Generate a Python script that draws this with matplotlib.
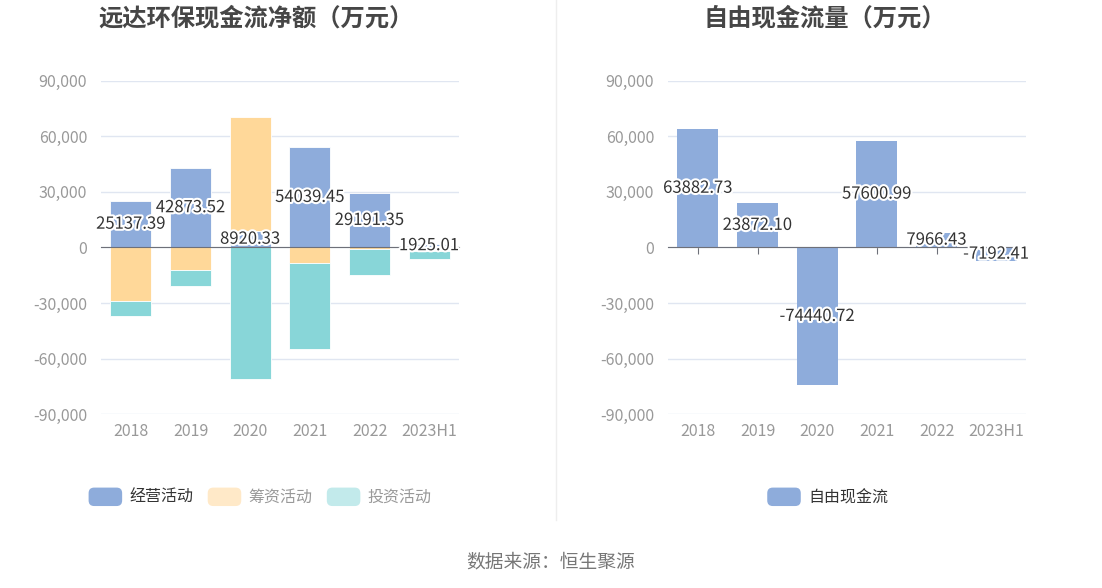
import matplotlib
matplotlib.use("Agg")
import matplotlib.pyplot as plt
import matplotlib.patheffects as pe
from matplotlib.patches import Patch, FancyBboxPatch
from matplotlib.legend_handler import HandlerPatch
import numpy as np

plt.rcParams['font.family'] = ['Noto Sans CJK SC', 'DejaVu Sans']

# dados
anos = ['2018', '2019', '2020', '2021', '2022', '2023H1']
operacional = [25137.39, 42873.52, 8920.33, 54039.45, 29191.35, 1925.01]
financiamento = [-28700, -12400, 61700, -8400, -800, -2000]
investimento = [-8500, -8250, -70800, -46200, -14300, -4200]
fluxo_livre = [63882.73, 23872.10, -74440.72, 57600.99, 7966.43, -7192.41]

AZUL = '#8eacdb'
LARANJA = '#ffd899'
VERDE = '#88d6d8'
GRID = '#e0e6f1'
CINZA = '#999999'

fig = plt.figure(figsize=(11.02, 5.88), dpi=100)
ax1 = fig.add_axes([0.0917, 0.2954, 0.3249, 0.5674])
ax2 = fig.add_axes([0.6062, 0.2954, 0.3249, 0.5674])

x = np.arange(len(anos))
largura = 0.69
contorno = [pe.withStroke(linewidth=3, foreground='white')]


class HandlerArredondado(HandlerPatch):
    # retangulo com cantos arredondados na legenda
    def create_artists(self, legend, orig_handle, xdescent, ydescent,
                       width, height, fontsize, trans):
        p = FancyBboxPatch((-xdescent, -ydescent), width, height,
                           boxstyle='round,pad=0,rounding_size=%f' % (height * 0.3),
                           facecolor=orig_handle.get_facecolor(),
                           edgecolor='none', transform=trans)
        return [p]


def estilo_eixo(ax, com_ticks):
    ax.set_ylim(-90000, 90000)
    ax.set_xlim(-0.5, len(anos) - 0.5)
    ax.set_yticks(np.arange(-90000, 90001, 30000))
    ax.set_yticklabels(['{:,}'.format(v) for v in range(-90000, 90001, 30000)])
    ax.yaxis.grid(True, color=GRID, linewidth=1)
    ax.set_axisbelow(True)
    for s in ['top', 'right', 'left']:
        ax.spines[s].set_visible(False)
    ax.spines['bottom'].set_position(('data', 0))
    ax.spines['bottom'].set_color('#6e7079')
    ax.spines['bottom'].set_zorder(5)
    ax.set_xticks(x)
    ax.tick_params(axis='x', labelbottom=False, length=5 if com_ticks else 0,
                   color='#6e7079', direction='out')
    ax.tick_params(axis='y', length=0, labelsize=11.5, labelcolor=CINZA, pad=10)
    for i, a in enumerate(anos):
        ax.text(i, -0.025, a, transform=ax.get_xaxis_transform(), ha='center',
                va='top', fontsize=11.5, color=CINZA)


# grafico 1 - empilhado
op = np.array(operacional)
fin = np.array(financiamento)
inv = np.array(investimento)
pos_base = np.zeros(len(anos))
neg_base = np.zeros(len(anos))
for valores, cor in [(op, AZUL), (fin, LARANJA), (inv, VERDE)]:
    base = np.where(valores >= 0, pos_base, neg_base)
    ax1.bar(x, valores, largura, bottom=base, color=cor, edgecolor='white',
            linewidth=0.6, zorder=2)
    pos_base = pos_base + np.where(valores >= 0, valores, 0)
    neg_base = neg_base + np.where(valores < 0, valores, 0)

for i, v in enumerate(operacional):
    ax1.text(i, v / 2, '%.2f' % v, ha='center', va='center', fontsize=12,
             color='#333333', path_effects=contorno, zorder=6)
estilo_eixo(ax1, False)

# grafico 2 - fluxo de caixa livre
ax2.bar(x, fluxo_livre, largura, color=AZUL, zorder=2)
for i, v in enumerate(fluxo_livre):
    ax2.text(i, v / 2, '%.2f' % v, ha='center', va='center', fontsize=12,
             color='#333333', path_effects=contorno, zorder=6)
estilo_eixo(ax2, True)

# titulos
fig.text(0.232, 0.968, '远达环保现金流净额（万元）', ha='center', va='center',
         fontsize=17.5, fontweight='bold', color='#464646')
fig.text(0.748, 0.968, '自由现金流量（万元）', ha='center', va='center',
         fontsize=17.5, fontweight='bold', color='#464646')

# linha divisoria
fig.add_artist(plt.Line2D([0.5045, 0.5045], [0.115, 1.0], color='#eeeeee',
                          linewidth=1))

# legendas
h1 = [Patch(facecolor=AZUL), Patch(facecolor='#ffe9c8'), Patch(facecolor='#c2eaeb')]
leg1 = fig.legend(h1, ['经营活动', '筹资活动', '投资活动'], loc='center',
                  bbox_to_anchor=(0.236, 0.155), ncol=3, frameon=False,
                  fontsize=11.5, handlelength=2.1, handleheight=1.4,
                  columnspacing=0.9, handletextpad=0.45,
                  handler_map={Patch: HandlerArredondado()})
cores_txt = ['#333333', CINZA, CINZA]
for t, c in zip(leg1.get_texts(), cores_txt):
    t.set_color(c)

leg2 = fig.legend([Patch(facecolor=AZUL)], ['自由现金流'],
                  loc='center', bbox_to_anchor=(0.751, 0.155), frameon=False,
                  fontsize=11.5, handlelength=2.1, handleheight=1.4,
                  handletextpad=0.45, handler_map={Patch: HandlerArredondado()})
leg2.get_texts()[0].set_color('#333333')

fig.text(0.5, 0.044, '数据来源：恒生聚源', ha='center', va='center',
         fontsize=13.5, color='#777777')

fig.savefig('out.png', dpi=100)
